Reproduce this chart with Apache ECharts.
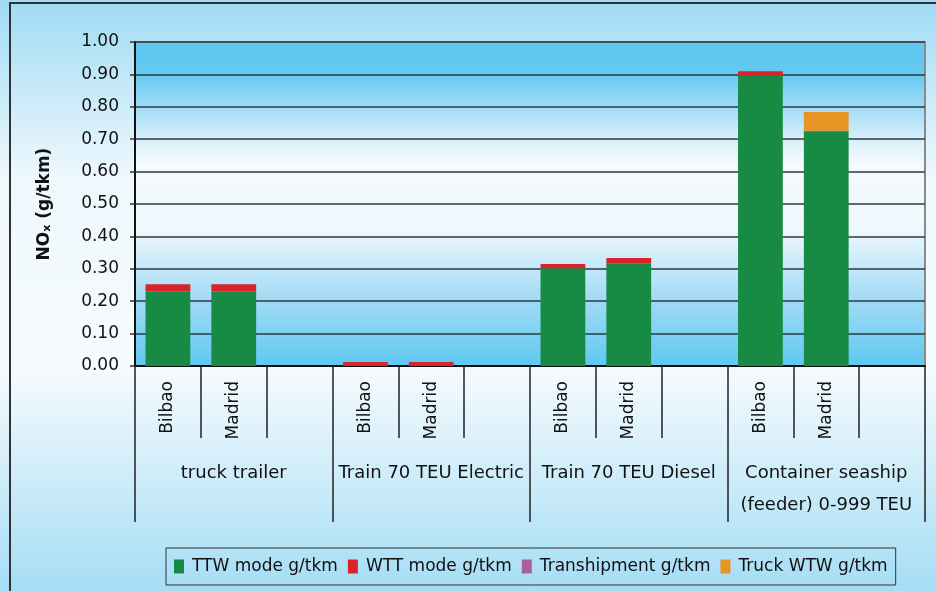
<!DOCTYPE html>
<html>
<head>
<meta charset="utf-8">
<script src="https://cdn.jsdelivr.net/npm/echarts@6/dist/echarts.min.js"></script>
<style>
  html, body { margin: 0; padding: 0; }
  #chart { width: 936px; height: 591px; }
</style>
</head>
<body>
<div id="chart"></div>
<script>
// 各组里的城市（每组最后一个空位）
const categories = ['Bilbao', 'Madrid', '', 'Bilbao', 'Madrid', '', 'Bilbao', 'Madrid', '', 'Bilbao', 'Madrid', '']
const groups = ['truck trailer', 'Train 70 TEU Electric', 'Train 70 TEU Diesel', 'Container seaship\n(feeder) 0-999 TEU']

const ttwMode = [0.230, 0.230, null, 0, 0, null, 0.302, 0.317, null, 0.897, 0.723, null]
const wttMode = [0.022, 0.022, null, 0.012, 0.012, null, 0.013, 0.016, null, 0.013, 0.003, null]
const transhipment = [0, 0, null, 0, 0, null, 0, 0, null, 0, 0, null]
const truckWtw = [0, 0, null, 0, 0, null, 0, 0, null, 0, 0.058, null]

const yTicks = ['0.00', '0.10', '0.20', '0.30', '0.40', '0.50', '0.60', '0.70', '0.80', '0.90', '1.00']

const font = 'DejaVu Sans'

let chart = echarts.init(document.getElementById('chart'))

function bar(name, data, color) {
    return {
        name: name,
        type: 'bar',
        stack: 'total',
        barWidth: '68%',
        data: data,
        itemStyle: { color: color },
        emphasis: { disabled: true }
    }
}

chart.setOption({
    animation: false,
    backgroundColor: new echarts.graphic.LinearGradient(0, 0, 0, 1, [
        { offset: 0, color: '#9fdbf4' },
        { offset: 0.3, color: '#eef8fd' },
        { offset: 0.62, color: '#f6fbfe' },
        { offset: 1, color: '#a5ddf5' }
    ]),
    // 外框只露出左边和上边
    graphic: [{
        type: 'polyline',
        shape: { points: [[10, 600], [10, 3], [940, 3]] },
        style: { fill: 'none', stroke: '#333', lineWidth: 2 },
        silent: true
    }],
    grid: {
        left: 135,
        right: 11,
        top: 42,
        bottom: 225,
        show: true,
        borderColor: '#8a8a8a',
        borderWidth: 2,
        backgroundColor: new echarts.graphic.LinearGradient(0, 0, 0, 1, [
            { offset: 0, color: '#5ec8f0' },
            { offset: 0.1, color: '#63c9f0' },
            { offset: 0.3, color: '#d8eefa' },
            { offset: 0.38, color: '#f5fafe' },
            { offset: 0.58, color: '#eef8fd' },
            { offset: 0.78, color: '#a6dcf5' },
            { offset: 1, color: '#5ec8f0' }
        ])
    },
    legend: {
        left: 166,
        top: 548,
        orient: 'horizontal',
        icon: 'rect',
        itemWidth: 10,
        itemHeight: 14,
        itemGap: 10,
        padding: [10, 8],
        borderColor: '#333',
        borderWidth: 1,
        textStyle: { fontFamily: font, fontSize: 17, color: '#111', padding: [0, 0, 0, 3] },
        data: ['TTW mode g/tkm', 'WTT mode g/tkm', 'Transhipment g/tkm', 'Truck WTW g/tkm']
    },
    xAxis: [{
        type: 'category',
        data: categories,
        axisLine: { lineStyle: { color: '#111', width: 2 } },
        axisTick: { show: true, interval: 0, length: 72, lineStyle: { color: '#222', width: 1.5 } },
        axisLabel: { interval: 0, rotate: 90, margin: 15, fontFamily: font, fontSize: 17, color: '#111' },
        splitLine: { show: false }
    }, {
        type: 'category',
        data: groups,
        position: 'bottom',
        axisLine: { show: false },
        axisTick: { show: true, interval: 0, length: 156, lineStyle: { color: '#222', width: 1.5 } },
        axisLabel: { interval: 0, margin: 91, fontFamily: font, fontSize: 18, lineHeight: 32, color: '#111' }
    }],
    yAxis: {
        type: 'value',
        min: 0,
        max: 1,
        interval: 0.1,
        name: '{b|NO}{s|x}{b| (g/tkm)}',
        nameLocation: 'middle',
        nameGap: 82,
        nameTextStyle: {
            rich: {
                b: { fontFamily: font, fontSize: 17, fontWeight: 'bold', color: '#111' },
                s: { fontFamily: font, fontSize: 11, fontWeight: 'bold', color: '#111', verticalAlign: 'bottom', padding: [6, 0, 0, 0] }
            }
        },
        axisLine: { show: true, lineStyle: { color: '#111', width: 2 } },
        axisTick: { show: true, length: 5, lineStyle: { color: '#333', width: 1.5 } },
        axisLabel: {
            margin: 16,
            fontFamily: font,
            fontSize: 17,
            color: '#111',
            formatter: (v) => yTicks[Math.round(v * 10)]
        },
        splitLine: { lineStyle: { color: '#2a3a40', width: 1.5 } }
    },
    series: [
        bar('TTW mode g/tkm', ttwMode, '#178a44'),
        bar('WTT mode g/tkm', wttMode, '#d9232a'),
        bar('Transhipment g/tkm', transhipment, '#a8609d'),
        bar('Truck WTW g/tkm', truckWtw, '#e69525')
    ]
})
</script>
</body>
</html>
